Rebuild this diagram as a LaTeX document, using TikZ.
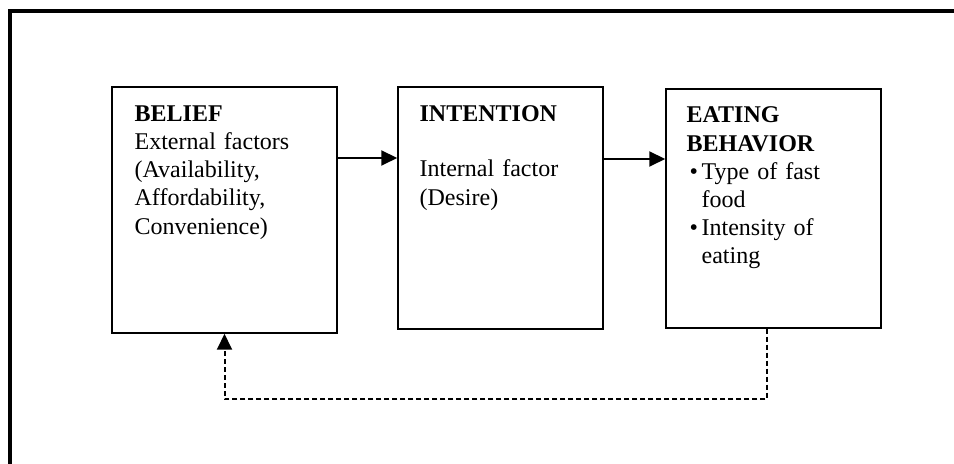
\documentclass[tikz,border=0pt]{standalone}
\usepackage{fontspec}
\setmainfont{Liberation Serif}
\usetikzlibrary{arrows.meta}
\tikzset{
box/.style={draw,line width=0.75pt,inner sep=0pt},
txt/.style={anchor=north west,inner sep=0pt,text width=100pt,align=left,
  font=\fontsize{12}{14.1}\selectfont},
arr/.style={line width=1pt,-{Triangle[length=8pt,width=7.5pt]}},
fb/.style={arr,dash pattern=on 2.5pt off 1.5pt}
}
\newcommand{\bul}{\hspace*{1.5pt}\makebox[6pt][l]{\textbullet}}
\begin{document}
\begin{tikzpicture}[x=0.5pt,y=-0.5pt]
\useasboundingbox (0,0) rectangle (954,464);
\draw[line width=2.25pt] (10,500) -- (10,11) -- (1000,11);
\node[box,minimum width=112.5pt,minimum height=123pt] (belief) at (224.5,210) {};
\node[box,minimum width=102.5pt,minimum height=121pt] (intention) at (500.5,208) {};
\node[box,minimum width=107.5pt,minimum height=119.5pt] (eating) at (773.5,208.5) {};
\node[txt] (belieftxt) at ([shift={(23,19)}]belief.north west)
  {\textbf{BELIEF}\\External factors\\(Availability,\\Affordability,\\Convenience)};
\node[txt] (intentiontxt) at ([shift={(22,19)}]intention.north west)
  {\textbf{INTENTION}\\[13.6pt]Internal factor\\(Desire)};
\node[txt] (eatingtxt) at ([shift={(21,18.4)}]eating.north west)
  {\textbf{EATING}\\\textbf{BEHAVIOR}\\
   \bul Type of fast\\\hspace*{7.5pt}food\\
   \bul Intensity of\\\hspace*{7.5pt}eating};
\draw[arr] (belief.east |- 0,158) -- (intention.west |- 0,158);
\draw[arr] (intention.east |- 0,159) -- (eating.west |- 0,159);
\draw[fb] (eating.south -| 767,0) |- (belief.south |- 0,399) -- (belief.south);
\end{tikzpicture}
\end{document}
